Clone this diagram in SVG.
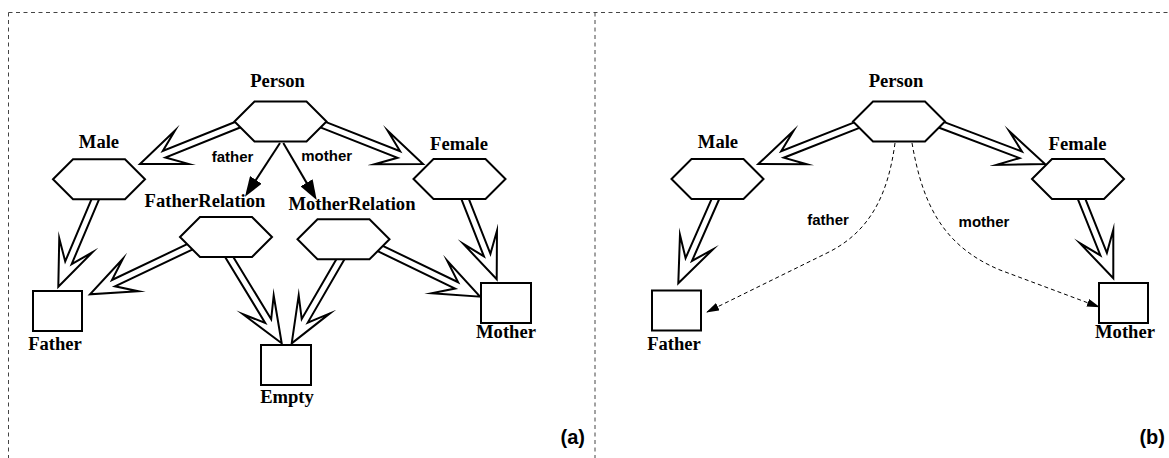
<svg xmlns="http://www.w3.org/2000/svg" xmlns:xlink="http://www.w3.org/1999/xlink" width="1169" height="458" viewBox="0 0 1169 458">
  <style>
    .frame { fill: none; stroke: #444; stroke-width: 1; stroke-dasharray: 4 3.5; }
    .node { fill: #fff; stroke: #000; stroke-width: 2; }
    .isa { fill: #fff; stroke: #000; stroke-width: 2; stroke-linejoin: miter; stroke-miterlimit: 10; }
    .rel { fill: none; stroke: #000; stroke-width: 2; marker-end: url(#solidHead); }
    .ref { fill: none; stroke: #000; stroke-width: 1; stroke-dasharray: 4 3; marker-end: url(#smallHead); }
    .name { font-family: "Liberation Serif", "Times New Roman", serif; font-weight: bold; font-size: 18.6px; text-anchor: middle; fill: #000; }
    .role { font-family: "Liberation Sans", Arial, sans-serif; font-weight: bold; font-size: 15px; text-anchor: middle; fill: #000; }
    .panel { font-family: "Liberation Sans", Arial, sans-serif; font-weight: bold; font-size: 20px; text-anchor: end; fill: #000; }
  </style>
  <defs>
    <polygon id="hex" points="-46,0 -26,-20 26,-20 46,0 26,20 -26,20"/>
    <marker id="solidHead" markerUnits="userSpaceOnUse" markerWidth="20" markerHeight="14" refX="10" refY="7" orient="auto">
      <path d="M0,0 L20,7 L0,14 Z" fill="#000"/>
    </marker>
    <marker id="smallHead" markerUnits="userSpaceOnUse" markerWidth="13" markerHeight="8" refX="12" refY="4" orient="auto">
      <path d="M0,0 L13,4 L0,8 Z" fill="#000"/>
    </marker>
  </defs>

  <!-- panel frames -->
  <g id="frames">
    <line class="frame" x1="8.5" y1="12.5" x2="1169" y2="12.5"/>
    <line class="frame" x1="8.5" y1="12.5" x2="8.5" y2="458"/>
    <line class="frame" x1="595" y1="12.5" x2="595" y2="458"/>
  </g>

  <!-- connectors: hollow double-line generalisation arrows and relation arrows -->
  <g id="connectors">
    <!-- panel (a) -->
    <polyline class="isa" points="243.1,118.75 162.8,151.05 175.0,130.5 140,164 188.5,163.9 165.4,157.55 245.7,125.25"/>
    <polyline class="isa" points="315.28,125.33 397.53,157.73 374.53,164.26 423,164 387.73,130.76 400.09,151.22 317.84,118.81"/>
    <polyline class="isa" points="95.68,189.44 65.21,261.40 59.26,238.24 58.3,286.7 92.42,252.28 71.66,264.12 102.12,192.16"/>
    <polyline class="isa" points="192.4,241.7 111.98,279.97 122.91,258.71 90,294.3 138.37,291.23 114.98,286.29 195.4,248.1"/>
    <polyline class="isa" points="221.81,251.62 265.2,322.91 242.93,314.2 281.7,343.3 273.69,295.5 271.18,319.27 227.79,247.98"/>
    <polyline class="isa" points="341.97,249.59 301.71,319.05 298.7,295.34 291.7,343.3 329.84,313.4 307.77,322.57 348.03,253.11"/>
    <polyline class="isa" points="374.58,249.65 455.07,288.54 431.65,293.34 480,296.7 447.31,260.92 458.11,282.24 377.62,243.35"/>
    <polyline class="isa" points="458.54,191.98 483.92,256.38 463.47,244.01 496.7,279.3 496.97,230.83 490.44,253.82 465.06,189.42"/>
    <line class="rel" x1="280" y1="143" x2="250.46" y2="188.32"/>
    <line class="rel" x1="283.3" y1="143" x2="311.64" y2="191.37"/>

    <!-- panel (b) -->
    <polyline class="isa" points="863.15,118.81 781.19,151.2 793.54,130.72 758.3,164 806.77,164.2 783.77,157.7 865.73,125.32"/>
    <polyline class="isa" points="933.28,125.44 1019.44,158.06 996.55,164.9 1045,164 1009.29,131.24 1021.92,151.52 935.76,118.9"/>
    <polyline class="isa" points="715.83,189.44 685.58,258.1 679.97,234.86 678.3,283.3 712.91,249.38 691.98,260.92 722.23,192.26"/>
    <polyline class="isa" points="1075.04,192.02 1100.4,255.46 1079.89,243.2 1113.3,278.3 1113.31,229.84 1106.9,252.86 1081.54,189.42"/>
    <path class="ref" d="M895,143 C888,195 870,232 827,253 L707,312"/>
    <path class="ref" d="M912,143 C922,200 940,245 1000,270 L1099,307"/>
  </g>

  <!-- panel (a) nodes -->
  <g id="a-person"><use xlink:href="#hex" href="#hex" class="node" x="280.5" y="121.5"/><text class="name" x="277.5" y="87">Person</text></g>
  <g id="a-male"><use xlink:href="#hex" href="#hex" class="node" x="99" y="179.3"/><text class="name" x="99" y="148">Male</text></g>
  <g id="a-female"><use xlink:href="#hex" href="#hex" class="node" x="459.5" y="179"/><text class="name" x="459" y="150">Female</text></g>
  <g id="a-fatherrelation"><use xlink:href="#hex" href="#hex" class="node" x="226" y="237"/><text class="name" x="205" y="207">FatherRelation</text></g>
  <g id="a-motherrelation"><use xlink:href="#hex" href="#hex" class="node" x="343.5" y="239.3"/><text class="name" x="352" y="210">MotherRelation</text></g>
  <g id="a-father"><rect class="node" x="33" y="291" width="49" height="40"/><text class="name" x="55" y="350">Father</text></g>
  <g id="a-empty"><rect class="node" x="261" y="345" width="50" height="40"/><text class="name" x="287" y="403">Empty</text></g>
  <g id="a-mother"><rect class="node" x="481" y="283" width="50" height="40"/><text class="name" x="506" y="338">Mother</text></g>
  <g id="a-roles">
    <text class="role" x="232.5" y="161.7">father</text>
    <text class="role" x="326.7" y="160.7">mother</text>
  </g>
  <text class="panel" x="585" y="444">(a)</text>

  <!-- panel (b) nodes -->
  <g id="b-person"><use xlink:href="#hex" href="#hex" class="node" x="899" y="121.5"/><text class="name" x="896" y="87">Person</text></g>
  <g id="b-male"><use xlink:href="#hex" href="#hex" class="node" x="717.5" y="179"/><text class="name" x="718" y="148">Male</text></g>
  <g id="b-female"><use xlink:href="#hex" href="#hex" class="node" x="1078" y="179"/><text class="name" x="1077.5" y="150">Female</text></g>
  <g id="b-father"><rect class="node" x="652" y="290.5" width="49" height="40"/><text class="name" x="674" y="350">Father</text></g>
  <g id="b-mother"><rect class="node" x="1099" y="283" width="49" height="40"/><text class="name" x="1125" y="338">Mother</text></g>
  <g id="b-roles">
    <text class="role" x="828" y="225">father</text>
    <text class="role" x="984" y="227">mother</text>
  </g>
  <text class="panel" x="1165" y="444">(b)</text>
</svg>
